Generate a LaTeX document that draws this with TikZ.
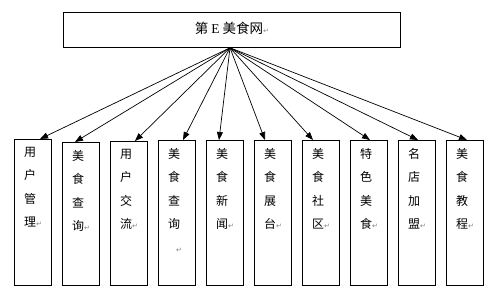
\documentclass[tikz,border=0pt]{standalone}
\usepackage{fontspec}
\newfontfamily\cjk{Noto Sans CJK SC}
\newfontfamily\dvfont{DejaVu Sans}
\newfontfamily\serifE{Liberation Serif}
\usetikzlibrary{arrows.meta,calc}
\newcommand{\retmark}{{\dvfont\color{gray}\fontsize{7}{7}\selectfont ↵}}
\begin{document}
\begin{tikzpicture}[x=1pt,y=-1pt,
  boxstyle/.style={draw, line width=0.8pt, inner sep=0pt, anchor=north west},
  coltext/.style={anchor=north west, align=left, inner sep=0pt, font=\cjk\fontsize{12}{23.5}\selectfont},
  arrowstyle/.style={line width=0.7pt, -{Triangle[length=8pt,width=6pt]}}]
\useasboundingbox (0,0) rectangle (500,301);
\node[boxstyle, minimum width=337pt, minimum height=35pt] (top) at (63,12) {};
\node[inner sep=0pt, font=\cjk\fontsize{13.5}{14}\selectfont] (title) at (232,28) {第 {\serifE E} 美食网\retmark};
\coordinate (apex) at ($(top.south west)+(167,0)$);
\foreach \i/\x/\t/\d/\txt in {
  1/14/139/26/{用\\户\\管\\理\retmark},
  2/62/142/13/{美\\食\\查\\询\retmark},
  3/110/141/25/{用\\户\\交\\流\retmark},
  4/158/140/25/{美\\食\\查\\询\\\hspace{8pt}\retmark},
  5/206/140/13/{美\\食\\新\\闻\retmark},
  6/254/140/11/{美\\食\\展\\台\retmark},
  7/302/140/11/{美\\食\\社\\区\retmark},
  8/350/140/20/{特\\色\\美\\食\retmark},
  9/398/140/20/{名\\店\\加\\盟\retmark},
  10/446/140/21/{美\\食\\教\\程\retmark}} {
  \pgfmathsetmacro{\h}{285-\t}
  \node[boxstyle, minimum width=37pt, minimum height=\h pt] (b\i) at (\x,\t) {};
  \node[coltext] (t\i) at ($(b\i.north west)+(10,8)$) {\txt};
  \coordinate (tip\i) at ($(b\i.north west)+(\d,0)$);
  \draw[arrowstyle] (apex) -- (tip\i);
}
\end{tikzpicture}
\end{document}
